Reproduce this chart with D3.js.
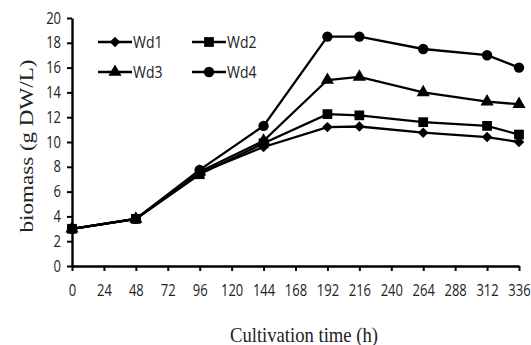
<!DOCTYPE html>
<html>
<head>
<meta charset="utf-8">
<script src="https://cdn.jsdelivr.net/npm/d3@7"></script>
<style>
  html, body { margin: 0; padding: 0; background: #fff; }
  svg { display: block; }
</style>
</head>
<body>
<svg id="chart" width="531" height="345"></svg>
<script>
// Sampling times (h)
const hours = [0, 48, 96, 144, 192, 216, 264, 312, 336];
// Biomass (g DW/L) per culture
const wd1 = [3.0, 3.8, 7.5, 9.6, 11.2, 11.25, 10.75, 10.4, 10.0];
const wd2 = [3.0, 3.8, 7.4, 9.9, 12.25, 12.15, 11.6, 11.3, 10.6];
const wd3 = [3.0, 3.8, 7.6, 10.1, 15.0, 15.25, 14.0, 13.25, 13.05];
const wd4 = [3.0, 3.8, 7.75, 11.3, 18.5, 18.5, 17.5, 17.0, 16.0];
const seriesNames = ["Wd1", "Wd2", "Wd3", "Wd4"];
const xTicks = d3.range(0, 337, 24);
const yTicks = d3.range(0, 21, 2);

const series = [
  { name: seriesNames[0], values: wd1, symbol: d3.symbolDiamond2, size: 70 },
  { name: seriesNames[1], values: wd2, symbol: d3.symbolSquare, size: 95 },
  { name: seriesNames[2], values: wd3, symbol: d3.symbolTriangle, size: 75 },
  { name: seriesNames[3], values: wd4, symbol: d3.symbolCircle, size: 85 }
];

const svg = d3.select("#chart");
const x = d3.scaleLinear().domain([0, 336]).range([72, 519]);
const y = d3.scaleLinear().domain([0, 20]).range([266, 18]);

const tickFont = "'Open Sans', 'Liberation Sans', sans-serif";
const serifFont = "'Liberation Serif', 'DejaVu Serif', serif";
const stretch = 1.2;

// Axes
const xAxis = svg.append("g")
  .attr("transform", `translate(0,${y(0)})`)
  .call(d3.axisBottom(x).tickValues(xTicks).tickSize(5).tickSizeOuter(0));
const yAxis = svg.append("g")
  .attr("transform", `translate(${x(0)},0)`)
  .call(d3.axisLeft(y).tickValues(yTicks).tickSize(5).tickPadding(6).tickSizeOuter(0));

[xAxis, yAxis].forEach(g => {
  g.select(".domain").attr("stroke", "#000").attr("stroke-width", 2.4);
  g.selectAll(".tick line").attr("stroke", "#000").attr("stroke-width", 2);
  g.selectAll(".tick text")
    .attr("fill", "#222")
    .style("font-family", tickFont)
    .style("font-size", "13px")
    .attr("transform", `scale(1,${stretch})`);
});
// x tick labels: place centre ~25px below the axis after the vertical stretch
xAxis.selectAll(".tick text").attr("y", 25 / stretch).attr("dy", "0.35em");

// Lines and markers
const line = d3.line().x((d, i) => x(hours[i])).y(d => y(d));
series.forEach(s => {
  svg.append("path")
    .datum(s.values)
    .attr("fill", "none")
    .attr("stroke", "#000")
    .attr("stroke-width", 2.3)
    .attr("d", line);
  svg.append("g").selectAll("path")
    .data(s.values)
    .join("path")
    .attr("transform", (d, i) => `translate(${x(hours[i])},${y(d)})`)
    .attr("d", d3.symbol().type(s.symbol).size(s.size))
    .attr("fill", "#000");
});

// Legend
const legendPos = [[98, 42], [192, 42], [98, 72], [192, 72]];
series.forEach((s, i) => {
  const [lx, ly] = legendPos[i];
  const g = svg.append("g").attr("transform", `translate(${lx},${ly})`);
  g.append("line").attr("x1", 0).attr("x2", 34).attr("y1", 0).attr("y2", 0)
    .attr("stroke", "#000").attr("stroke-width", 2.3);
  g.append("path").attr("transform", "translate(17,0)")
    .attr("d", d3.symbol().type(s.symbol).size(s.size))
    .attr("fill", "#000");
  g.append("text").attr("x", 35).attr("y", 0).attr("dy", "0.35em")
    .attr("transform", `scale(1,${stretch})`)
    .style("font-family", tickFont).style("font-size", "14px")
    .attr("fill", "#222")
    .text(s.name);
});

// Axis titles
svg.append("text")
  .attr("transform", `translate(304,342) scale(1,1.15)`)
  .attr("text-anchor", "middle")
  .attr("textLength", 148)
  .attr("lengthAdjust", "spacingAndGlyphs")
  .style("font-family", serifFont)
  .style("font-size", "18px")
  .attr("fill", "#222")
  .text("Cultivation time (h)");

svg.append("text")
  .attr("transform", "translate(33,146) rotate(-90)")
  .attr("text-anchor", "middle")
  .attr("textLength", 173)
  .attr("lengthAdjust", "spacingAndGlyphs")
  .style("font-family", serifFont)
  .style("font-size", "18px")
  .attr("fill", "#222")
  .text("biomass (g DW/L)");
</script>
</body>
</html>
